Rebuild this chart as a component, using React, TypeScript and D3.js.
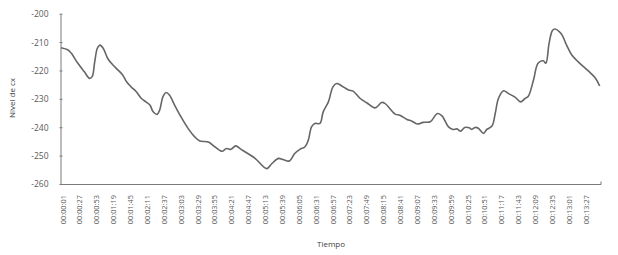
import React from 'react';
import * as d3 from 'd3';

// tiempo en segundos desde 00:00:00
const seconds = [
	1, 12, 17, 27, 37, 45, 49, 53, 57, 61, 66, 73, 81, 89, 96, 102, 109, 117, 125, 132,
	138, 143, 149, 153, 158, 163, 168, 176, 186, 197, 207, 215, 228, 238, 249, 256, 263, 270, 279, 300,
	318, 326, 336, 343, 353, 361, 369, 377, 382, 387, 392, 400, 405, 413, 420, 426, 433, 444, 451, 462,
	472, 485, 495, 500, 516, 523, 534, 541, 550, 559, 570, 581, 588, 598, 605, 611, 617, 623, 630, 634,
	639, 644, 652, 657, 665, 670, 675, 683, 690, 701, 709, 716, 721, 729, 736, 744, 748, 753, 758, 762,
	772, 780, 788, 798, 813, 824, 831
];
const nivel = [
	-211.8, -212.6, -213.8, -217.3, -220.3, -222.6, -222, -216.7, -212, -210.9, -212, -215.6, -217.9, -219.7, -221.4, -223.8, -225.6, -227.3, -229.7, -230.9,
	-232, -234.4, -235.3, -233.8, -229.1, -227.6, -228.5, -232, -236.2, -240.3, -243.2, -244.7, -245, -246.7, -248.3, -247.3, -247.6, -246.4, -247.7, -250.8,
	-254.4, -252.6, -250.8, -251.2, -251.7, -249.1, -247.6, -246.7, -244.4, -239.7, -238.5, -238.5, -234.4, -230.9, -225.6, -224.4, -225.2, -226.7, -227.1, -229.7,
	-231.2, -233, -231.1, -231.4, -235.2, -235.6, -237.1, -237.6, -238.7, -238.1, -237.9, -235, -235.8, -239.7, -240.6, -240.4, -241.2, -239.9, -240, -240.6,
	-239.9, -240.2, -242, -240.6, -239.4, -235, -229.7, -227, -227.9, -229.3, -230.9, -229.7, -228.9, -223.2, -217.3, -216.4, -217.3, -210.3, -205.8, -205.2,
	-207, -210.9, -214.4, -216.8, -219.9, -222.4, -225.3
];
const tickLabels = [
	'00:00:01', '00:00:27', '00:00:53', '00:01:19', '00:01:45', '00:02:11', '00:02:37', '00:03:03',
	'00:03:29', '00:03:55', '00:04:21', '00:04:47', '00:05:13', '00:05:39', '00:06:05', '00:06:31',
	'00:06:57', '00:07:23', '00:07:49', '00:08:15', '00:08:41', '00:09:07', '00:09:33', '00:09:59',
	'00:10:25', '00:10:51', '00:11:17', '00:11:43', '00:12:09', '00:12:35', '00:13:01', '00:13:27'
];
const yTicks = [-200, -210, -220, -230, -240, -250, -260];

const toSec = (s: string) => {
	const [h, m, ss] = s.split(':').map(Number);
	return h * 3600 + m * 60 + ss;
};

export default function App() {
	const width = 618;
	const height = 255;
	const x = d3.scaleLinear().domain([1, 833]).range([61, 601]);
	const y = d3.scaleLinear().domain([-260, -200]).range([184.5, 14.2]);
	const line = d3.line<number>()
		.x((_, i) => x(seconds[i]))
		.y(d => y(d))
		.curve(d3.curveCatmullRom.alpha(0.5));
	const font = '"Open Sans", "DejaVu Sans", sans-serif';
	const axisColor = '#7a7a7a';
	const textColor = '#595959';

	return (
		<svg width={width} height={height} style={{ position: 'absolute', left: 0, top: 0 }} fontFamily={font}>
			<rect width={width} height={height} fill="#fff" />
			{/* eje y */}
			<line x1={61} x2={61} y1={y(-200)} y2={y(-260)} stroke={axisColor} strokeWidth={1} />
			{yTicks.map(t => (
				<g key={t}>
					<line x1={59.5} x2={62.5} y1={y(t)} y2={y(t)} stroke={axisColor} />
					<text x={48.5} y={y(t)} dy="0.35em" textAnchor="end" fontSize={8.5} fill={textColor}>{t}</text>
				</g>
			))}
			{/* eje x */}
			<line x1={61} x2={601} y1={y(-260)} y2={y(-260)} stroke={axisColor} strokeWidth={1} />
			<line x1={601} x2={601} y1={y(-260)} y2={y(-260) - 3} stroke={axisColor} />
			{tickLabels.map(l => {
				const px = x(toSec(l)) + 2;
				const py = 195;
				return (
					<text key={l} transform={`translate(${px},${py}) rotate(-90)`} dy="0.35em" textAnchor="end"
						fontSize={7.4} fill={textColor}>{l}</text>
				);
			})}
			<text x={331} y={247} textAnchor="middle" fontSize={8} fill="#404040">Tiempo</text>
			<text transform="translate(15,98) rotate(-90)" textAnchor="middle" fontSize={8} fill="#404040">Nivel de cx</text>
			<path d={line(nivel) ?? ''} fill="none" stroke="#666666" strokeWidth={1.6} />
		</svg>
	);
}
